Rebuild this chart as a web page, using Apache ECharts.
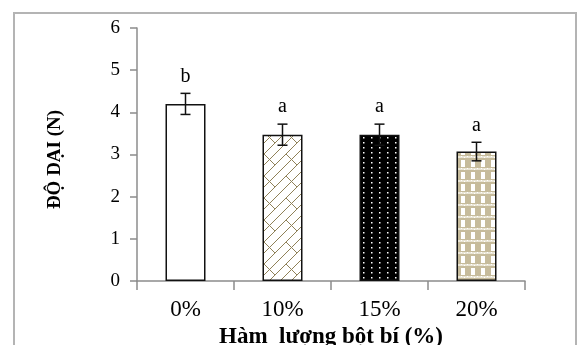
<!DOCTYPE html>
<html><head><meta charset="utf-8">
<script src="https://cdn.jsdelivr.net/npm/echarts@6/dist/echarts.min.js"></script>
<style>html,body{margin:0;padding:0;background:#fff}#c{width:583px;height:345px}</style>
</head><body><div id="c"></div>
<script>
var categories = ['0%', '10%', '15%', '20%'];
var means = [4.2, 3.47, 3.47, 3.07];
var errors = [0.25, 0.25, 0.25, 0.22];
var letters = ['b', 'a', 'a', 'a'];
var yTicks = [0, 1, 2, 3, 4, 5, 6];

function tile(w, h, draw) {
  var c = document.createElement('canvas'); c.width = w; c.height = h;
  var g = c.getContext('2d'); draw(g); return c;
}
var brick = tile(22, 22, function (g) {
  var k = 22 / 12;
  g.fillStyle = '#fff'; g.fillRect(0, 0, 22, 22);
  g.strokeStyle = '#8f8158'; g.lineWidth = 1;
  g.beginPath();
  var segs = [[0, 6, 6, 0], [0, 12, 12, 0], [6, 12, 12, 6], [3, 3, 6, 6], [12, 0, 15, 3]];
  for (var dx = -12; dx <= 12; dx += 12) for (var dy = -12; dy <= 12; dy += 12) {
    segs.forEach(function (s) { g.moveTo((s[0] + dx) * k, (s[1] + dy) * k); g.lineTo((s[2] + dx) * k, (s[3] + dy) * k); });
  }
  g.stroke();
});
var dots = tile(8, 10, function (g) {
  g.fillStyle = '#000'; g.fillRect(0, 0, 8, 10);
  g.fillStyle = '#fff'; g.fillRect(3, 2, 1.5, 1.5); g.fillRect(3, 7, 1.5, 1.5);
});
var check = tile(10, 12, function (g) {
  g.fillStyle = '#c6bb9b'; g.fillRect(0, 0, 10, 12);
  g.fillStyle = '#ffffff'; g.fillRect(1, 4, 4, 7);
  g.fillStyle = '#e9e4d4'; g.fillRect(0, 0, 10, 2);
  g.fillStyle = '#fff'; g.fillRect(1, 0, 1, 1); g.fillRect(4, 1, 1, 1); g.fillRect(7, 0, 1, 1);
});
var fills = ['#ffffff', {image: brick, repeat: 'repeat'}, {image: dots, repeat: 'repeat'}, {image: check, repeat: 'repeat'}];

var font = 'Liberation Serif';
var chart = echarts.init(document.getElementById('c'), null, {renderer: 'canvas'});
chart.setOption({
  animation: false,
  graphic: [{type: 'rect', shape: {x: 14, y: 13, width: 562, height: 340}, style: {fill: 'none', stroke: '#b4b4b4', lineWidth: 2}, z: -1}],
  grid: {left: 137, right: 58, top: 28, bottom: 64, containLabel: false, outerBoundsMode: 'none'},
  xAxis: {
    type: 'category', data: categories,
    axisLine: {lineStyle: {color: '#8c8c8c', width: 1.5}},
    axisTick: {show: true, length: 9, lineStyle: {color: '#8c8c8c', width: 1.5}},
    axisLabel: {fontFamily: font, fontSize: 23, color: '#000', margin: 17},
    name: 'Hàm  lượng bột bí (%)', nameLocation: 'middle', nameGap: 37,
    nameTextStyle: {fontFamily: font, fontSize: 23, fontWeight: 'bold', color: '#000'}
  },
  yAxis: {
    type: 'value', min: 0, max: 6, interval: 1,
    splitLine: {show: false},
    axisLine: {show: true, lineStyle: {color: '#8c8c8c', width: 1.5}},
    axisTick: {show: true, length: 7, lineStyle: {color: '#8c8c8c', width: 1.5}},
    axisLabel: {fontFamily: font, fontSize: 19, color: '#000', margin: 17,
      formatter: function (v) { return yTicks.indexOf(v) >= 0 ? String(v) : ''; }},
    name: 'ĐỘ DẠI (N)', nameLocation: 'middle', nameGap: 72,
    nameTextStyle: {fontFamily: font, fontSize: 19, fontWeight: 'bold', color: '#000', padding: [0, 10, 0, 0]}
  },
  series: [{
    type: 'bar', barWidth: 40,
    data: means.map(function (v, i) {
      return {value: v, itemStyle: {color: fills[i], borderColor: '#111', borderWidth: 1.5}};
    })
  }, {
    type: 'custom',
    data: means.map(function (v, i) { return [i, v, errors[i], letters[i]]; }),
    renderItem: function (params, api) {
      var i = api.value(0), m = api.value(1), e = api.value(2);
      var top = api.coord([i, m + e]), bot = api.coord([i, m - e]);
      var x = top[0], cw = 5;
      var st = {stroke: '#111', lineWidth: 1.5};
      return {type: 'group', children: [
        {type: 'line', shape: {x1: x, y1: top[1], x2: x, y2: bot[1]}, style: st},
        {type: 'line', shape: {x1: x - cw, y1: top[1], x2: x + cw, y2: top[1]}, style: st},
        {type: 'line', shape: {x1: x - cw, y1: bot[1], x2: x + cw, y2: bot[1]}, style: st},
        {type: 'text', x: x, y: top[1] - 17, style: {text: letters[params.dataIndex], fontFamily: font, fontSize: 20, fill: '#000', align: 'center', verticalAlign: 'middle'}}
      ]};
    },
    z: 5
  }]
});
</script></body></html>
